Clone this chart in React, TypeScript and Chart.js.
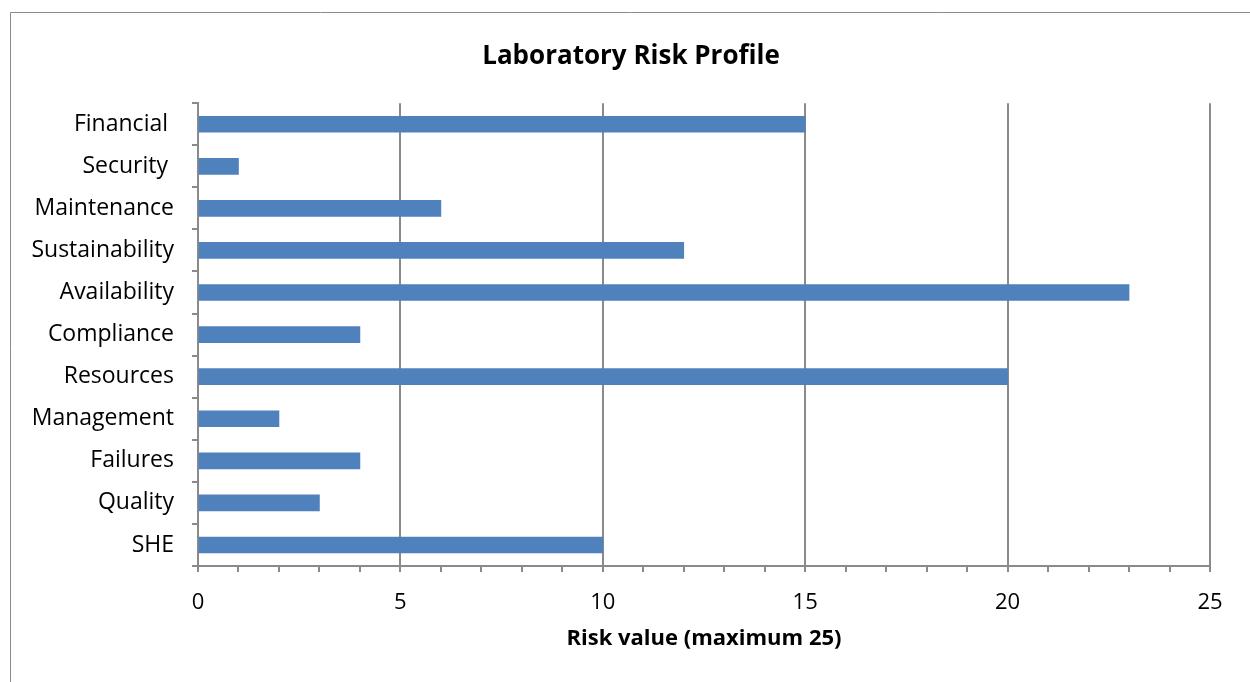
import React, { useEffect, useRef } from "react";
import { Chart, registerables } from "chart.js";

Chart.register(...registerables);

const categories = [
  "Financial ",
  "Security ",
  "Maintenance",
  "Sustainability",
  "Availability",
  "Compliance",
  "Resources",
  "Management",
  "Failures",
  "Quality",
  "SHE",
];
const riskValues = [15, 1, 6, 12, 23, 4, 20, 2, 4, 3, 10];
const xMin = 0;
const xMax = 25;
const majorStep = 5;
const chartTitle = "Laboratory Risk Profile";
const xAxisTitle = "Risk value (maximum 25)";

const GRAY = "#8a8a8a";
const FONT = "'Open Sans', 'Liberation Sans', sans-serif";

const outerBorder = {
  id: "outerBorder",
  afterLayout(chart: any) {
    if (chart.titleBlock) {
      chart.titleBlock.left = 12;
      chart.titleBlock.right = chart.width;
    }
  },
  beforeDraw(chart: any) {
    const ctx = chart.ctx;
    ctx.save();
    ctx.strokeStyle = GRAY;
    ctx.lineWidth = 1;
    ctx.beginPath();
    ctx.moveTo(10.5, chart.height);
    ctx.lineTo(10.5, 12.5);
    ctx.lineTo(chart.width, 12.5);
    ctx.stroke();
    ctx.restore();
  },
};

export default function App() {
  const ref = useRef<HTMLCanvasElement | null>(null);
  useEffect(() => {
    if (!ref.current) return;
    const chart = new Chart(ref.current, {
      type: "bar",
      data: {
        labels: categories,
        datasets: [
          {
            data: riskValues,
            backgroundColor: "#4F81BD",
            borderWidth: 0,
            barThickness: 16,
          },
        ],
      },
      plugins: [outerBorder],
      options: {
        indexAxis: "y",
        animation: false,
        responsive: false,
        maintainAspectRatio: false,
        layout: { padding: { left: 10, right: 40, top: 0, bottom: 30 } },
        plugins: {
          legend: { display: false },
          tooltip: { enabled: false },
          title: {
            display: true,
            text: chartTitle,
            color: "#000",
            font: { family: FONT, size: 26, weight: "bold" },
            padding: { top: 41, bottom: 31 },
          },
        },
        scales: {
          x: {
            type: "linear",
            min: xMin,
            max: xMax,
            ticks: {
              stepSize: 1,
              autoSkip: false,
              maxRotation: 0,
              color: "#000",
              font: { family: FONT, size: 22 },
              padding: 18,
              callback: (v: any) => (Number(v) % majorStep === 0 ? String(v) : ""),
            },
            grid: {
              color: (c: any) =>
                c.tick && c.tick.value % majorStep === 0 && c.tick.value !== 0 ? GRAY : "rgba(0,0,0,0)",
              tickColor: GRAY,
              tickLength: 6,
              lineWidth: 2,
              tickWidth: 2,
            },
            border: { color: GRAY, width: 2 },
            title: {
              display: true,
              text: xAxisTitle,
              color: "#000",
              font: { family: FONT, size: 22, weight: "bold" },
              padding: { top: 0, bottom: 0 },
            },
            afterFit: (s: any) => {
              s.height = 86;
            },
          },
          y: {
            type: "category",
            offset: true,
            ticks: {
              color: "#000",
              font: { family: FONT, size: 23 },
              padding: 18,
              autoSkip: false,
            },
            grid: {
              offset: true,
              drawOnChartArea: false,
              tickColor: GRAY,
              tickLength: 6,
              tickWidth: 2,
              lineWidth: 2,
            },
            border: { color: GRAY, width: 2 },
            afterFit: (s: any) => {
              s.width = 188;
            },
          },
        },
      },
    });
    return () => chart.destroy();
  }, []);
  return (
    <div style={{ position: "absolute", left: 0, top: 0, width: 1250, height: 682, background: "#fff" }}>
      <canvas ref={ref} width={1250} height={682} style={{ width: 1250, height: 682, display: "block" }} />
    </div>
  );
}
